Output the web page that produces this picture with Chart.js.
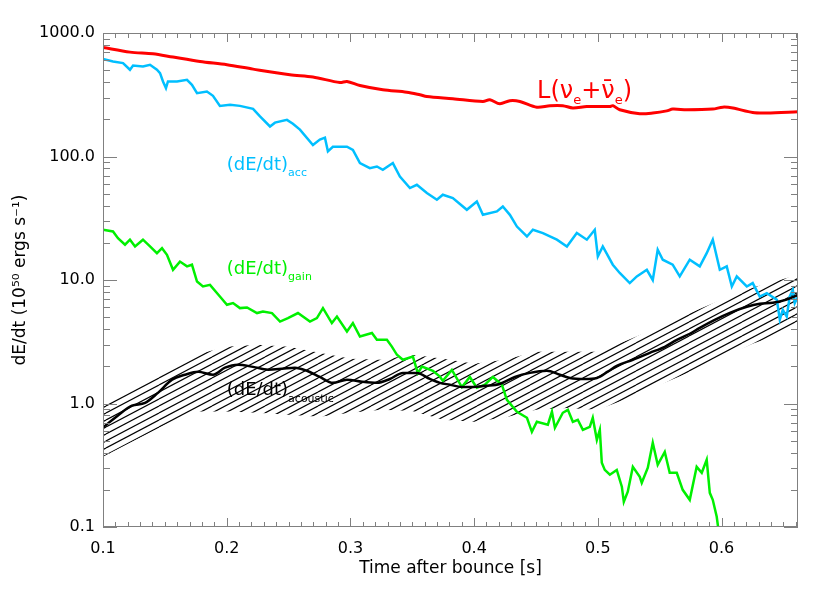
<!DOCTYPE html>
<html>
<head>
<meta charset="utf-8">
<script src="https://cdn.jsdelivr.net/npm/chart.js@4.4.1/dist/chart.umd.min.js"></script>
<style>
  html, body { margin: 0; padding: 0; background: #fff; }
</style>
</head>
<body>
<canvas id="myChart" width="830" height="593"></canvas>
<script>
// --- data (time after bounce [s], dE/dt in 1e50 erg/s)
const xTicks = [0.1, 0.2, 0.3, 0.4, 0.5, 0.6];
const yTicks = [0.1, 1, 10, 100, 1000];

const lumTime = [0.1000,0.1218,0.1404,0.1566,0.1784,0.2002,0.2213,0.2511,0.2697,0.2915,0.2972,0.3077,0.3262,0.3456,0.3562,0.3618,0.3828,0.4071,0.4127,0.4208,0.4289,0.4370,0.4507,0.4613,0.4717,0.4798,0.4911,0.5097,0.5121,0.5177,0.5339,0.5444,0.5557,0.5605,0.5718,0.5929,0.6010,0.6091,0.6252,0.6366,0.6618];
const lumValue = [763,700,679,638,588,553,510,459,440,397,405,376,347,332,316,306,294,279,288,267,283,279,251,258,258,247,254,254,258,239,222,225,234,242,239,242,251,247,227,225,230];

const accTime = [0.1000,0.1081,0.1162,0.1218,0.1243,0.1323,0.1380,0.1436,0.1461,0.1485,0.1509,0.1525,0.1598,0.1679,0.1719,0.1760,0.1840,0.1889,0.1945,0.2027,0.2107,0.2213,0.2269,0.2350,0.2390,0.2487,0.2535,0.2592,0.2697,0.2753,0.2794,0.2818,0.2858,0.2972,0.3020,0.3077,0.3157,0.3214,0.3262,0.3343,0.3400,0.3481,0.3537,0.3618,0.3699,0.3747,0.3828,0.3941,0.4022,0.4071,0.4184,0.4232,0.4289,0.4346,0.4427,0.4475,0.4556,0.4669,0.4750,0.4830,0.4911,0.4975,0.5000,0.5040,0.5121,0.5177,0.5258,0.5315,0.5396,0.5444,0.5484,0.5525,0.5605,0.5662,0.5743,0.5824,0.5880,0.5929,0.5986,0.6042,0.6083,0.6123,0.6204,0.6252,0.6309,0.6366,0.6447,0.6471,0.6495,0.6527,0.6551,0.6576,0.6592,0.6618];
const accValue = [615,588,571,504,546,536,553,504,473,405,358,405,405,418,381,326,336,310,257,262,257,243,211,175,188,198,184,165,124,137,142,110,120,120,113,88.5,80.5,83,78,88.5,68.9,55.5,59,50.6,44.6,49,46,37,43.2,33.7,35.9,39.4,33.7,27.1,22.5,25.5,24,21.2,18.7,24,21.2,25.5,15.5,18.7,13.3,11.4,9.44,10.7,12.1,10.0,17.6,14.6,13.3,10.7,14.6,12.9,16.5,21.2,12.1,12.9,8.86,10.7,8.86,9.44,7.35,7.83,6.91,4.78,5.74,5.06,7.35,8.33,6.5,7.35];

const gainTime = [0.1000,0.1081,0.1121,0.1178,0.1218,0.1259,0.1323,0.1380,0.1436,0.1477,0.1517,0.1566,0.1622,0.1679,0.1719,0.1760,0.1808,0.1865,0.1945,0.2002,0.2051,0.2107,0.2164,0.2245,0.2293,0.2366,0.2431,0.2495,0.2576,0.2673,0.2729,0.2778,0.2850,0.2891,0.2972,0.3020,0.3077,0.3174,0.3214,0.3295,0.3335,0.3376,0.3424,0.3505,0.3545,0.3578,0.3667,0.3723,0.3747,0.3820,0.3901,0.3965,0.4022,0.4087,0.4152,0.4224,0.4265,0.4346,0.4427,0.4467,0.4507,0.4596,0.4629,0.4653,0.4717,0.4758,0.4798,0.4838,0.4879,0.4935,0.4959,0.4992,0.5016,0.5032,0.5056,0.5097,0.5153,0.5194,0.5210,0.5242,0.5283,0.5339,0.5355,0.5404,0.5444,0.5484,0.5541,0.5581,0.5638,0.5686,0.5743,0.5799,0.5840,0.5880,0.5905,0.5929,0.5961,0.5986];
const gainValue = [25.5,24.7,21.8,19.3,21.2,18.7,21.2,18.7,16.5,18.1,16.0,12.1,14.1,12.9,13.3,9.72,8.86,9.14,7.35,6.30,6.50,5.92,5.99,5.40,5.56,5.40,4.61,4.91,5.40,4.61,4.91,5.92,4.48,5.06,3.83,4.48,3.49,3.72,3.28,3.28,2.89,2.48,2.26,2.40,1.76,1.99,1.84,1.65,1.53,1.87,1.36,1.64,1.34,1.42,1.64,1.42,1.07,0.857,0.766,0.590,0.711,0.673,0.857,0.636,0.841,0.889,0.711,0.738,0.612,0.647,0.766,0.508,0.612,0.331,0.290,0.265,0.290,0.212,0.160,0.193,0.307,0.255,0.228,0.302,0.481,0.319,0.406,0.275,0.275,0.200,0.166,0.307,0.275,0.350,0.189,0.166,0.121,0.0785];

const acouTime = [0.1000,0.1121,0.1234,0.1340,0.1444,0.1558,0.1663,0.1768,0.1889,0.1986,0.2091,0.2213,0.2334,0.2447,0.2551,0.2648,0.2753,0.2858,0.2972,0.3093,0.3214,0.3319,0.3424,0.3537,0.3642,0.3723,0.3804,0.3901,0.3990,0.4087,0.4208,0.4330,0.4451,0.4588,0.4693,0.4774,0.4895,0.4992,0.5080,0.5153,0.5283,0.5420,0.5541,0.5638,0.5743,0.5824,0.5945,0.6067,0.6204,0.6309,0.6414,0.6519,0.6618];
const acouValue = [0.64,0.80,0.96,1.01,1.22,1.56,1.71,1.81,1.71,1.95,2.06,1.98,1.88,1.91,1.95,1.84,1.64,1.47,1.56,1.50,1.47,1.58,1.77,1.77,1.58,1.47,1.42,1.36,1.36,1.39,1.44,1.64,1.77,1.84,1.71,1.61,1.58,1.61,1.81,2.02,2.26,2.57,2.88,3.28,3.67,4.10,4.76,5.42,6.07,6.41,6.54,6.91,7.59];

// hatched band around the acoustic curve
const bandTime = [0.100,0.125,0.150,0.175,0.200,0.225,0.250,0.275,0.300,0.325,0.350,0.375,0.400,0.425,0.450,0.475,0.500,0.525,0.550,0.575,0.600,0.625,0.650,0.6618];
const bandUpper = [1.01,1.37,1.84,2.48,2.88,2.99,2.88,2.57,2.30,2.26,2.48,2.30,2.10,2.26,2.62,2.62,2.62,3.28,4.18,5.42,6.91,8.65,10.2,11.0];
const bandLower = [0.37,0.50,0.67,0.86,0.86,0.84,0.81,0.78,0.84,0.89,0.87,0.74,0.71,0.77,0.89,0.92,0.89,1.11,1.42,1.81,2.34,3.04,3.73,4.59];

const FONT = 'DejaVu Sans';
const RED = '#ff0000', CYAN = '#00bfff', GREEN = '#00f000', BLACK = '#000000';

function toPoints(xs, ys) {
    return xs.map(function (x, i) { return { x: x, y: ys[i] }; });
}

// diagonal hatch pattern
function makeHatch() {
    const W = 53, H = 28, step = 7;
    const c = document.createElement('canvas');
    c.width = W; c.height = H;
    const g = c.getContext('2d');
    g.strokeStyle = '#000';
    g.lineWidth = 1.2;
    for (let k = 0; k <= 2 * H; k += step) {
        g.beginPath();
        g.moveTo(0, k);
        g.lineTo(W, k - H);
        g.stroke();
    }
    return g.createPattern(c, 'repeat');
}

// text with sub/superscript parts: [text, size, dy]
function richText(ctx, x, y, parts) {
    let cx = x;
    parts.forEach(function (p) {
        ctx.font = p[1] + 'px "' + FONT + '"';
        ctx.fillText(p[0], cx, y + p[2]);
        cx += ctx.measureText(p[0]).width;
    });
}

// IDL style box with inward ticks on all four sides
const frameTicks = {
    id: 'frameTicks',
    afterDraw(chart) {
        const ctx = chart.ctx, a = chart.chartArea;
        const x = chart.scales.x, y = chart.scales.y;
        ctx.save();
        ctx.strokeStyle = '#808080';
        ctx.lineWidth = 1;
        ctx.strokeRect(a.left + 0.5, a.top + 0.5, a.right - a.left - 1, a.bottom - a.top - 1);
        ctx.beginPath();
        for (let i = 0; i <= 56; i++) {
            const v = 0.1 + i * 0.01;
            if (v > x.max) break;
            const px = Math.round(x.getPixelForValue(v)) + 0.5;
            const len = (i % 10 === 0) ? 9 : 5;
            ctx.moveTo(px, a.bottom); ctx.lineTo(px, a.bottom - len);
            ctx.moveTo(px, a.top); ctx.lineTo(px, a.top + len);
        }
        [0.1, 1, 10, 100].forEach(function (d) {
            for (let m = 1; m <= 10; m++) {
                const py = Math.round(y.getPixelForValue(d * m)) + 0.5;
                const len = (m === 1 || m === 10) ? 14 : 7;
                ctx.moveTo(a.left, py); ctx.lineTo(a.left + len, py);
                ctx.moveTo(a.right, py); ctx.lineTo(a.right - len, py);
            }
        });
        ctx.stroke();
        ctx.restore();
    }
};

// curve labels
const curveLabels = {
    id: 'curveLabels',
    afterDatasetsDraw(chart) {
        const ctx = chart.ctx, x = chart.scales.x, y = chart.scales.y;
        ctx.save();
        ctx.textBaseline = 'alphabetic';
        ctx.textAlign = 'left';
        ctx.fillStyle = RED;
        richText(ctx, x.getPixelForValue(0.4509), y.getPixelForValue(299),
            [['L(', 24, 0], ['\u03bd', 24, 0], ['e', 13, 6], ['+', 24, 0], ['\u03bd\u0304', 24, 0], ['e', 13, 6], [')', 24, 0]]);
        ctx.fillStyle = CYAN;
        richText(ctx, x.getPixelForValue(0.2), y.getPixelForValue(78),
            [['(dE/dt)', 18, 0], ['acc', 11, 6]]);
        ctx.fillStyle = GREEN;
        richText(ctx, x.getPixelForValue(0.2), y.getPixelForValue(11.2),
            [['(dE/dt)', 18, 0], ['gain', 11, 6]]);
        ctx.fillStyle = BLACK;
        richText(ctx, x.getPixelForValue(0.2), y.getPixelForValue(1.18),
            [['(dE/dt)', 18, 0], ['acoustic', 11, 7]]);
        ctx.restore();
    }
};

const ctx = document.getElementById('myChart');

new Chart(ctx, {
    type: 'line',
    data: {
        datasets: [{
            label: 'band upper',
            data: toPoints(bandTime, bandUpper),
            borderColor: 'transparent',
            borderWidth: 0,
            pointRadius: 0,
            fill: false,
            order: 10
        }, {
            label: 'band lower',
            data: toPoints(bandTime, bandLower),
            borderColor: 'transparent',
            borderWidth: 0,
            pointRadius: 0,
            fill: '-1',
            backgroundColor: makeHatch(),
            order: 9
        }, {
            label: 'L(nu_e + anti nu_e)',
            data: toPoints(lumTime, lumValue),
            borderColor: RED,
            borderWidth: 3,
            pointRadius: 0,
            tension: 0.3,
            order: 4
        }, {
            label: 'acc',
            data: toPoints(accTime, accValue),
            borderColor: CYAN,
            borderWidth: 2.5,
            pointRadius: 0,
            order: 3
        }, {
            label: 'gain',
            data: toPoints(gainTime, gainValue),
            borderColor: GREEN,
            borderWidth: 2.5,
            pointRadius: 0,
            order: 2
        }, {
            label: 'acoustic',
            data: toPoints(acouTime, acouValue),
            borderColor: BLACK,
            borderWidth: 2.5,
            pointRadius: 0,
            cubicInterpolationMode: 'monotone',
            order: 1
        }]
    },
    options: {
        responsive: false,
        animation: false,
        layout: { padding: { top: 33, right: 32, left: 0, bottom: 0 } },
        plugins: {
            legend: { display: false },
            tooltip: { enabled: false }
        },
        scales: {
            x: {
                type: 'linear',
                min: 0.1,
                max: 0.6618,
                grid: { display: false, drawTicks: false },
                border: { display: false },
                afterBuildTicks: function (s) { s.ticks = xTicks.map(function (v) { return { value: v }; }); },
                afterFit: function (s) { s.height = 66; },
                ticks: {
                    padding: 12, color: '#000', autoSkip: false, maxRotation: 0,
                    font: { family: FONT, size: 16 },
                    callback: function (v) { return Number(v).toFixed(1); }
                },
                title: {
                    display: true, text: 'Time after bounce [s]', color: '#000',
                    font: { family: FONT, size: 17 }, padding: { top: 0, bottom: 14 }
                }
            },
            y: {
                type: 'logarithmic',
                min: 0.1,
                max: 1000,
                grid: { display: false, drawTicks: false },
                border: { display: false },
                afterBuildTicks: function (s) { s.ticks = yTicks.map(function (v) { return { value: v }; }); },
                afterFit: function (s) { s.width = 103; },
                ticks: {
                    padding: 8, color: '#000', autoSkip: false,
                    font: { family: FONT, size: 16 },
                    callback: function (v) { return Number(v).toFixed(1); }
                },
                title: {
                    display: true, text: 'dE/dt (10\u2075\u2070 ergs s\u207b\u00b9)', color: '#000',
                    font: { family: FONT, size: 17 }, padding: { top: 10, bottom: 0 }
                }
            }
        }
    },
    plugins: [frameTicks, curveLabels]
});
</script>
</body>
</html>
